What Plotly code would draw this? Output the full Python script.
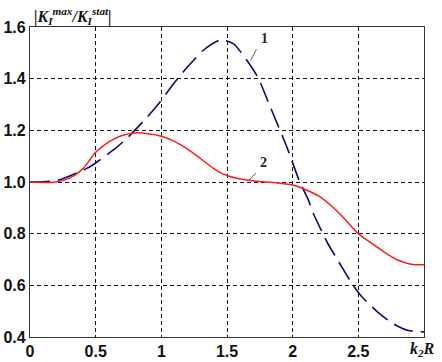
import plotly.graph_objects as go

# Curve 1 (blue dashed)
x1 = [0.0, 0.21, 0.38, 0.46, 0.53, 0.65, 0.74, 0.89, 0.99, 1.10, 1.19, 1.32, 1.45, 1.55,
      1.68, 1.74, 1.83, 1.96, 2.05, 2.12, 2.16, 2.27, 2.34, 2.46, 2.52, 2.65, 2.77, 2.88, 3.0]
y1 = [1.0, 1.006, 1.04, 1.06, 1.085, 1.13, 1.17, 1.25, 1.31, 1.385, 1.44, 1.51, 1.55, 1.535,
      1.45, 1.40, 1.29, 1.13, 1.005, 0.93, 0.875, 0.76, 0.70, 0.60, 0.56, 0.495, 0.45, 0.425, 0.42]

# Curve 2 (red solid)
x2 = [0.0, 0.2, 0.3, 0.4, 0.5, 0.6, 0.7, 0.8, 0.9, 1.0, 1.1, 1.2, 1.3, 1.4, 1.5, 1.6, 1.7,
      1.8, 1.9, 2.0, 2.1, 2.2, 2.3, 2.4, 2.5, 2.6, 2.7, 2.8, 2.9, 3.0]
y2 = [1.0, 1.0, 1.015, 1.05, 1.115, 1.155, 1.18, 1.19, 1.187, 1.177, 1.157, 1.127, 1.09, 1.052,
      1.025, 1.012, 1.005, 1.0, 0.995, 0.988, 0.97, 0.945, 0.905, 0.855, 0.80, 0.763, 0.728, 0.698, 0.682, 0.68]

x_ticks = [0, 0.5, 1, 1.5, 2, 2.5, 3]
x_tick_text = ["0", "0.5", "1", "1.5", "2", "2.5", ""]
y_ticks = [0.4, 0.6, 0.8, 1.0, 1.2, 1.4, 1.6]
y_tick_text = ["0.4", "0.6", "0.8", "1.0", "1.2", "1.4", "1.6"]

fig = go.Figure()
fig.add_trace(go.Scatter(x=x1, y=y1, mode="lines",
                         line=dict(color="#0a0a78", width=1.6, dash="20px,8px", shape="spline", smoothing=0.6),
                         showlegend=False))
fig.add_trace(go.Scatter(x=x2, y=y2, mode="lines",
                         line=dict(color="#ff1a1a", width=1.5, shape="spline", smoothing=0.8),
                         showlegend=False))

serif = "Liberation Serif, Times New Roman, serif"
sans = "Liberation Sans, Arial, sans-serif"

# curve labels with leader lines
fig.add_annotation(x=1.68, y=1.47, ax=1.73, ay=1.52, axref="x", ayref="y", text="", showarrow=True,
                   arrowhead=0, arrowwidth=0.8, arrowcolor="#333")
fig.add_annotation(x=1.745, y=1.52, text="<b>1</b>", showarrow=False, xanchor="left", yanchor="bottom",
                   font=dict(family=serif, size=14, color="#222"))
fig.add_annotation(x=1.67, y=1.008, ax=1.73, ay=1.04, axref="x", ayref="y", text="", showarrow=True,
                   arrowhead=0, arrowwidth=0.8, arrowcolor="#333")
fig.add_annotation(x=1.735, y=1.04, text="<b>2</b>", showarrow=False, xanchor="left", yanchor="bottom",
                   font=dict(family=serif, size=14, color="#222"))

# axis titles
fig.add_annotation(xref="paper", yref="paper", x=0.005, y=1.0, xanchor="left", yanchor="bottom", yshift=-2,
                   text="<b><i>|K<sub>I</sub><sup>max</sup>/K<sub>I</sub><sup>stat</sup>|</i></b>", showarrow=False,
                   font=dict(family=serif, size=16, color="#111"))
fig.add_annotation(xref="paper", yref="paper", x=1.0, y=0, xanchor="right", yanchor="top", xshift=13, yshift=-1,
                   text="<b><i>k<sub>2</sub>R</i></b>", showarrow=False,
                   font=dict(family=serif, size=16, color="#111"))

axis_common = dict(showgrid=True, gridcolor="#111", griddash="4px,3px", gridwidth=1, showline=True, mirror=True,
                   linecolor="#333", linewidth=1.2, zeroline=False, ticks="", automargin=False,
                   tickfont=dict(family=sans, size=16, color="#111", weight="bold"))
fig.update_xaxes(range=[0, 3], tickvals=x_ticks, ticktext=x_tick_text, ticklabelstandoff=0, **axis_common)
fig.update_yaxes(range=[0.4, 1.6], tickvals=y_ticks, ticktext=y_tick_text, ticklabelstandoff=0, **axis_common)

fig.update_layout(width=442, height=362, margin=dict(l=30, r=18, t=27, b=25, autoexpand=False),
                  plot_bgcolor="white", paper_bgcolor="white")

fig.write_html("out.html", config={"displayModeBar": False},
               post_script="document.body.style.margin='0';document.body.style.overflow='hidden';")
